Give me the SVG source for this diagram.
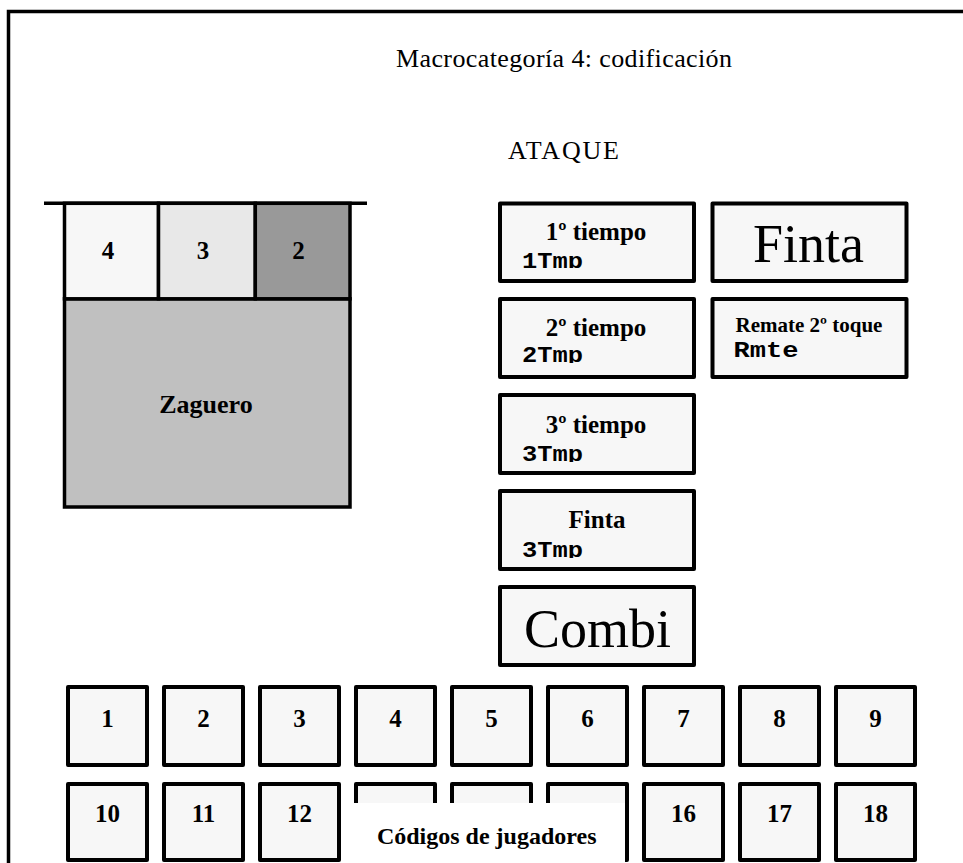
<svg xmlns="http://www.w3.org/2000/svg" width="963" height="863" viewBox="0 0 963 863">
<style>
  .frame { fill: none; stroke: #000; stroke-width: 3.5; }
  .box { fill: #f7f7f7; stroke: #000; stroke-width: 4; stroke-linejoin: round; }
  .cell { stroke: #000; stroke-width: 3.5; }
  .serif { font-family: "Liberation Serif", "Times New Roman", serif; fill: #000; }
  .b { font-weight: bold; }
  .mono { font-family: "Courier New", "Liberation Mono", monospace; font-weight: bold; font-size: 22px; fill: #000; }
  .num { font-family: "Liberation Serif", "Times New Roman", serif; font-weight: bold; font-size: 25px; text-anchor: middle; fill: #000; }
  .mid { text-anchor: middle; }
</style>
<defs>
  <clipPath id="c1"><rect x="500" y="203" width="194" height="65"/></clipPath>
  <clipPath id="c2"><rect x="500" y="299" width="194" height="64"/></clipPath>
  <clipPath id="c3"><rect x="500" y="395" width="194" height="67"/></clipPath>
  <clipPath id="c4"><rect x="500" y="491" width="194" height="67"/></clipPath>
</defs>
<rect width="963" height="863" fill="#fff"/>
<rect id="frame" class="frame" x="8.5" y="11.5" width="1000" height="900"/>

<g id="titles">
  <text class="serif" x="396" y="66.5" font-size="26" textLength="336" lengthAdjust="spacing">Macrocategoría 4: codificación</text>
  <text class="serif" x="508" y="159.3" font-size="26" textLength="111" lengthAdjust="spacing">ATAQUE</text>
</g>

<g id="court">
  <rect id="zaguero" class="cell" x="64.5" y="298.8" width="285.5" height="208.2" fill="#c0c0c0"/>
  <rect id="zone4" class="cell" x="64.5" y="203.3" width="94" height="95.5" fill="#f7f7f7"/>
  <rect id="zone3" class="cell" x="158.5" y="203.3" width="96.8" height="95.5" fill="#e8e8e8"/>
  <rect id="zone2" class="cell" x="255.3" y="203.3" width="94.7" height="95.5" fill="#999999"/>
  <line x1="44" y1="203.3" x2="367" y2="203.3" stroke="#000" stroke-width="3.5"/>
  <text class="num" x="108" y="259.3">4</text>
  <text class="num" x="203" y="259.3">3</text>
  <text class="num" x="298.5" y="259.3">2</text>
  <text class="serif b mid" x="206" y="412.7" font-size="26">Zaguero</text>
</g>

<g id="n1tiempo">
  <rect class="box" x="500" y="203.5" width="194" height="77.5"/>
  <text class="serif b mid" x="596" y="239.5" font-size="25">1º tiempo</text>
  <text class="mono" x="522" y="267.5" textLength="61" lengthAdjust="spacingAndGlyphs" clip-path="url(#c1)">1Tmp</text>
</g>
<g id="nFinta">
  <rect class="box" x="712.5" y="203.5" width="194" height="77.5"/>
  <text class="serif mid" x="808.5" y="262.3" font-size="54">Finta</text>
</g>
<g id="n2tiempo">
  <rect class="box" x="500" y="299" width="194" height="78"/>
  <text class="serif b mid" x="596" y="336" font-size="25">2º tiempo</text>
  <text class="mono" x="522" y="362.3" textLength="61" lengthAdjust="spacingAndGlyphs" clip-path="url(#c2)">2Tmp</text>
</g>
<g id="nRemate">
  <rect class="box" x="712.5" y="299" width="194" height="78"/>
  <text class="serif b mid" x="809" y="332.3" font-size="21">Remate 2º toque</text>
  <text class="mono" x="733.5" y="357.3" textLength="65" lengthAdjust="spacingAndGlyphs">Rmte</text>
</g>
<g id="n3tiempo">
  <rect class="box" x="500" y="395" width="194" height="78"/>
  <text class="serif b mid" x="596" y="432.7" font-size="25">3º tiempo</text>
  <text class="mono" x="522" y="460.6" textLength="61" lengthAdjust="spacingAndGlyphs" clip-path="url(#c3)">3Tmp</text>
</g>
<g id="nFintaB">
  <rect class="box" x="500" y="491" width="194" height="78"/>
  <text class="serif b mid" x="597" y="528.3" font-size="25">Finta</text>
  <text class="mono" x="522" y="556.6" textLength="61" lengthAdjust="spacingAndGlyphs" clip-path="url(#c4)">3Tmp</text>
</g>
<g id="nCombi">
  <rect class="box" x="500" y="587" width="194" height="78"/>
  <text class="serif mid" x="597.5" y="647" font-size="54">Combi</text>
</g>

<g id="players">
  <g id="p1"><rect class="box" x="68" y="687" width="79" height="78"/><text class="num" x="107.5" y="727">1</text></g>
  <g id="p2"><rect class="box" x="164" y="687" width="79" height="78"/><text class="num" x="203.5" y="727">2</text></g>
  <g id="p3"><rect class="box" x="260" y="687" width="79" height="78"/><text class="num" x="299.5" y="727">3</text></g>
  <g id="p4"><rect class="box" x="356" y="687" width="79" height="78"/><text class="num" x="395.5" y="727">4</text></g>
  <g id="p5"><rect class="box" x="452" y="687" width="79" height="78"/><text class="num" x="491.5" y="727">5</text></g>
  <g id="p6"><rect class="box" x="548" y="687" width="79" height="78"/><text class="num" x="587.5" y="727">6</text></g>
  <g id="p7"><rect class="box" x="644" y="687" width="79" height="78"/><text class="num" x="683.5" y="727">7</text></g>
  <g id="p8"><rect class="box" x="740" y="687" width="79" height="78"/><text class="num" x="779.5" y="727">8</text></g>
  <g id="p9"><rect class="box" x="836" y="687" width="79" height="78"/><text class="num" x="875.5" y="727">9</text></g>
  <g id="p10"><rect class="box" x="68" y="784" width="79" height="76"/><text class="num" x="107.5" y="822">10</text></g>
  <g id="p11"><rect class="box" x="164" y="784" width="79" height="76"/><text class="num" x="203.5" y="822">11</text></g>
  <g id="p12"><rect class="box" x="260" y="784" width="79" height="76"/><text class="num" x="299.5" y="822">12</text></g>
  <g id="p13"><rect class="box" x="356" y="784" width="79" height="76"/></g>
  <g id="p14"><rect class="box" x="452" y="784" width="79" height="76"/></g>
  <g id="p15"><rect class="box" x="548" y="784" width="79" height="76"/></g>
  <g id="p16"><rect class="box" x="644" y="784" width="79" height="76"/><text class="num" x="683.5" y="822">16</text></g>
  <g id="p17"><rect class="box" x="740" y="784" width="79" height="76"/><text class="num" x="779.5" y="822">17</text></g>
  <g id="p18"><rect class="box" x="836" y="784" width="79" height="76"/><text class="num" x="875.5" y="822">18</text></g>
</g>

<g id="legend">
  <rect x="345" y="803" width="280" height="70" fill="#fff"/>
  <text class="serif b mid" x="486.7" y="844" font-size="24">Códigos de jugadores</text>
</g>
<g id="connectors"/>
</svg>
